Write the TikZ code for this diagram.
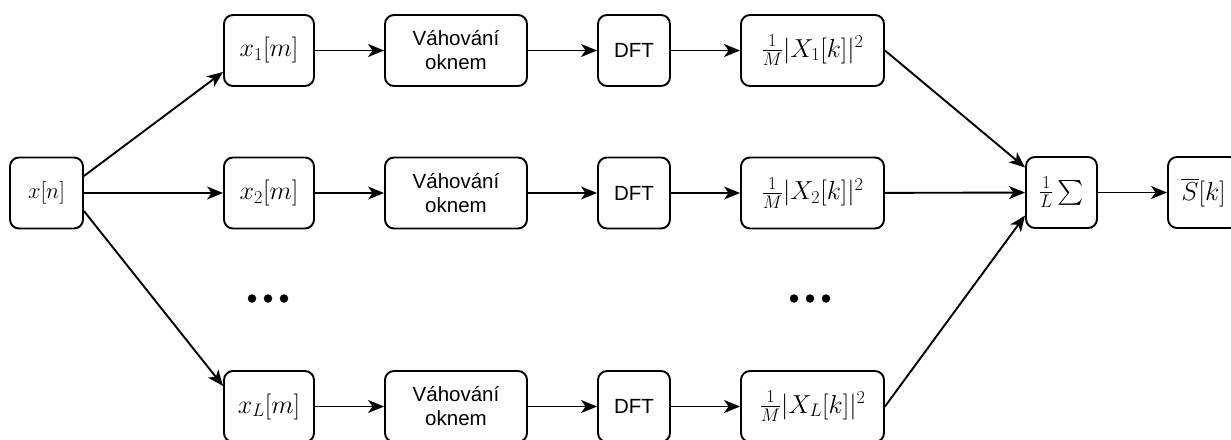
\RequirePackage{fix-cm}
\documentclass[tikz,border=0pt]{standalone}
\usepackage{amsmath}
\usepackage{fontspec}
\setmainfont{Liberation Sans}
\usetikzlibrary{arrows.meta}
\tikzset{
  blk/.style={draw, line width=1.9pt, rounded corners=9pt, inner sep=0pt,
    minimum height=71pt, align=center, font=\fontsize{20.5}{24}\selectfont},
  arr/.style={line width=1.9pt, -{Stealth[length=16pt,width=13pt,inset=4.5pt]}},
  dot/.style={circle, fill=black, inner sep=0pt, minimum size=8.5pt},
  mth/.style={font=\fontsize{26}{30}\selectfont},
}
\begin{document}
\begin{tikzpicture}[x=1pt, y=-1pt]
\useasboundingbox (0,0) rectangle (1231,439);
% input signal
\node[blk, minimum width=73pt, font=\fontsize{22.5}{26}\selectfont] (xn) at (46.5,193) {$x[n]$};
% segment rows
\foreach \r/\y/\s in {1/50.5/1, 2/193/2, L/406.5/L}{
  \node[blk, mth, minimum width=90pt] (x\r) at (269,\y) {$x_{\s}[m]$};
  \node[blk, minimum width=142pt] (w\r) at (456,\y) {Váhování\\oknem};
  \node[blk, minimum width=72pt] (d\r) at (634,\y) {DFT};
  \node[blk, mth, minimum width=143pt] (p\r) at (812.5,\y) {$\frac{1}{M}|X_{\s}[k]|^2$};
  \draw[arr] (x\r) -- (w\r);
  \draw[arr] (w\r) -- (d\r);
  \draw[arr] (d\r) -- (p\r);
}
% averaging and output
\node[blk, mth, minimum width=71pt] (sum) at (1061.5,192.5) {$\frac{1}{L}\sum$};
\node[blk, mth, minimum width=71pt] (out) at (1203.5,192.5) {$\overline{S}[k]$};
% ellipses between rows
\foreach \c/\n in {268/l, 810/r}{
  \node[dot] (\n a) at (\c-16,298.5) {};
  \node[dot] (\n b) at (\c,298.5) {};
  \node[dot] (\n c) at (\c+16,298.5) {};
}
% fan-out
\draw[arr] ([yshift=17pt]xn.east) -- ([yshift=-21.5pt]x1.west);
\draw[arr] (xn) -- (x2);
\draw[arr] ([yshift=-18pt]xn.east) -- ([yshift=20.5pt]xL.west);
% fan-in
\draw[arr] (p1.east) -- ([yshift=25pt]sum.west);
\draw[arr] (p2) -- (sum);
\draw[arr] (pL.east) -- ([yshift=-23pt]sum.west);
\draw[arr] (sum) -- (out);
\end{tikzpicture}
\end{document}
